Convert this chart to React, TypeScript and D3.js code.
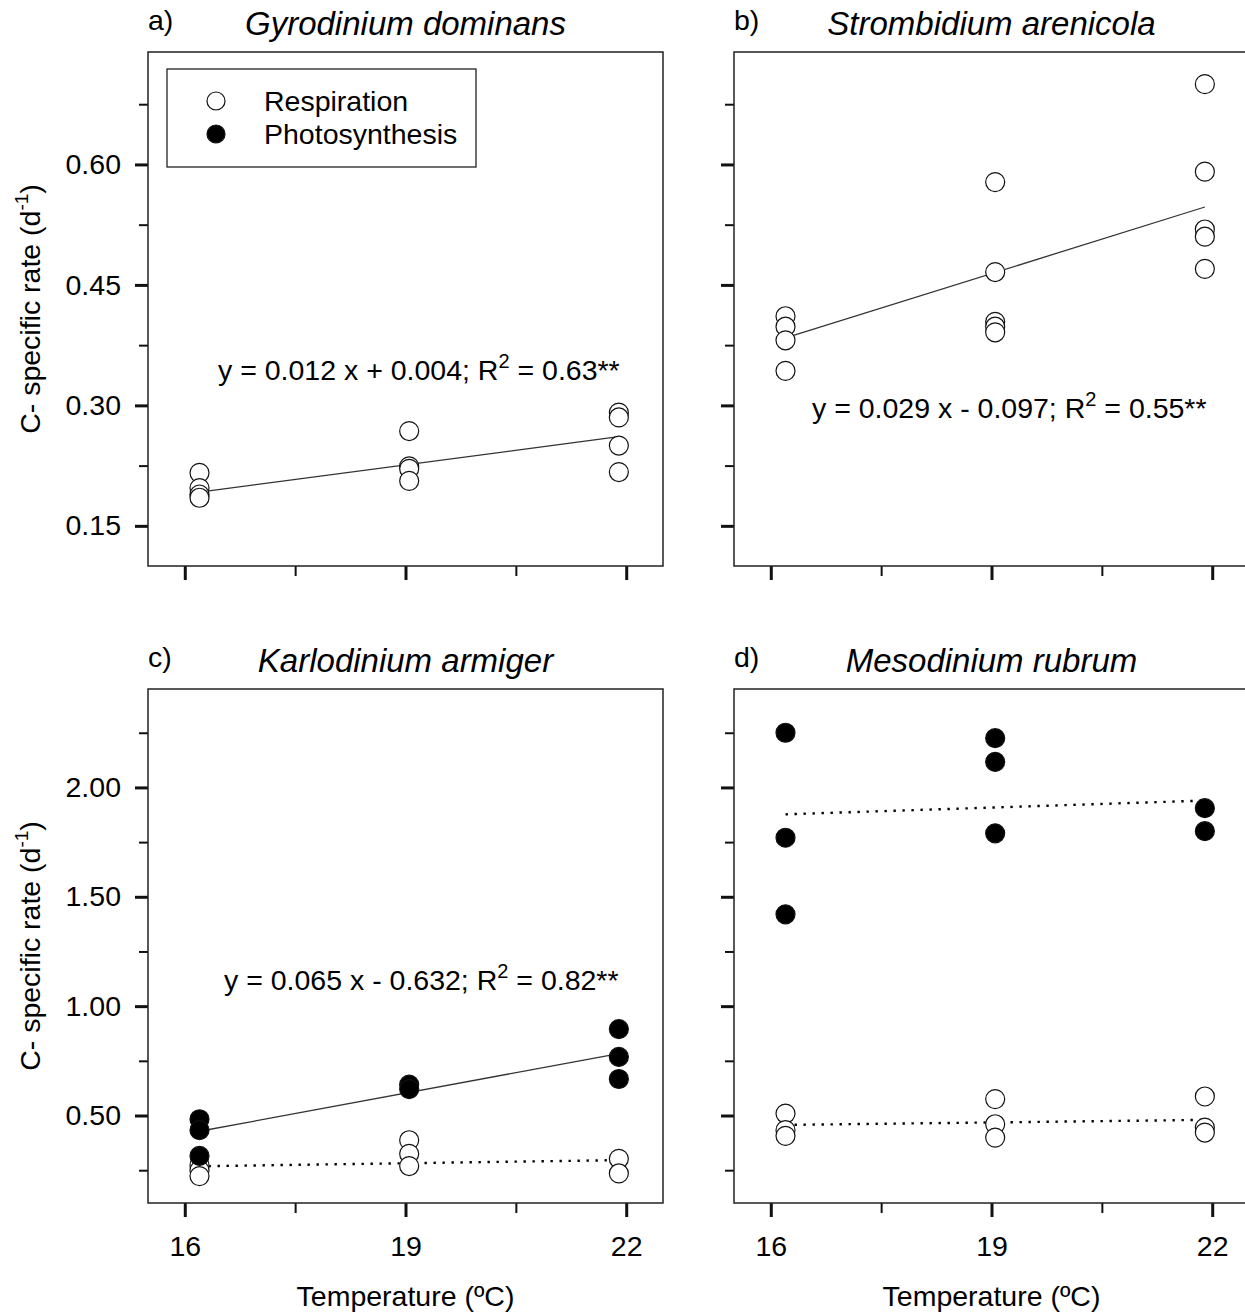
import React, { useRef, useEffect } from 'react';
import * as d3 from 'd3';

// temperatures at which the points were plotted, and the ends of the fitted lines
const tempGroups = [16.2, 19.05, 21.9];
const fitEnds = [16.2, 21.9];

// a) Gyrodinium dominans
const gyroResp = [[0.216, 0.197, 0.189, 0.185], [0.268, 0.224, 0.221, 0.206], [0.291, 0.285, 0.25, 0.217]];
const gyroRespFit = [0.192, 0.261];

// b) Strombidium arenicola
const stromResp = [[0.411, 0.398, 0.381, 0.343], [0.578, 0.466, 0.404, 0.398, 0.391], [0.7, 0.591, 0.519, 0.51, 0.47]];
const stromRespFit = [0.384, 0.547];

// c) Karlodinium armiger
const karloResp = [[0.273, 0.249, 0.223], [0.387, 0.325, 0.269], [0.302, 0.235]];
const karloRespFit = [0.268, 0.296];
const karloPhoto = [[0.483, 0.433, 0.315], [0.641, 0.621], [0.895, 0.768, 0.667]];
const karloPhotoFit = [0.428, 0.783];

// d) Mesodinium rubrum
const mesoResp = [[0.509, 0.433, 0.407], [0.575, 0.46, 0.399], [0.587, 0.445, 0.422]];
const mesoRespFit = [0.457, 0.48];
const mesoPhoto = [[2.25, 1.77, 1.42], [2.225, 2.117, 1.79], [1.905, 1.8]];
const mesoPhotoFit = [1.877, 1.94];

const xMajor = [16, 19, 22];
const xMinor = [17.5, 20.5];
const yMajorTop = [0.15, 0.3, 0.45, 0.6];
const yMinorTop = [0.225, 0.375, 0.525, 0.675];
const yMajorBottom = [0.5, 1.0, 1.5, 2.0];
const yMinorBottom = [0.25, 0.75, 1.25, 1.75, 2.25];

const FONT = 'Liberation Sans, Arial, sans-serif';
const FS = 28.5;

function App() {
    const svgRef = useRef(null);

    useEffect(() => {
        const width = 1245;
        const height = 1315;
        const panelW = 515;
        const panelH = 514;

        const svg = d3.select(svgRef.current)
            .attr('width', width)
            .attr('height', height)
            .attr('font-family', FONT);
        svg.selectAll('*').remove();

        const panels = [
            {
                left: 148, top: 52, yDomain: [0.1, 0.74], yMajor: yMajorTop, yMinor: yMinorTop,
                letter: 'a)', title: 'Gyrodinium dominans', yLabels: true, xLabels: false,
                resp: gyroResp, respFit: gyroRespFit, respDash: false,
                eq: { x: 218, y: 380, a: 'y = 0.012 x + 0.004; R', b: ' = 0.63**' }, legend: true,
            },
            {
                left: 734, top: 52, yDomain: [0.1, 0.74], yMajor: yMajorTop, yMinor: yMinorTop,
                letter: 'b)', title: 'Strombidium arenicola', yLabels: false, xLabels: false,
                resp: stromResp, respFit: stromRespFit, respDash: false,
                eq: { x: 812, y: 418, a: 'y = 0.029 x - 0.097; R', b: ' = 0.55**' },
            },
            {
                left: 148, top: 689, yDomain: [0.1, 2.45], yMajor: yMajorBottom, yMinor: yMinorBottom,
                letter: 'c)', title: 'Karlodinium armiger', yLabels: true, xLabels: true,
                resp: karloResp, respFit: karloRespFit, respDash: true,
                photo: karloPhoto, photoFit: karloPhotoFit, photoDash: false,
                eq: { x: 224, y: 990, a: 'y = 0.065 x - 0.632; R', b: ' = 0.82**' },
            },
            {
                left: 734, top: 689, yDomain: [0.1, 2.45], yMajor: yMajorBottom, yMinor: yMinorBottom,
                letter: 'd)', title: 'Mesodinium rubrum', yLabels: false, xLabels: true,
                resp: mesoResp, respFit: mesoRespFit, respDash: true,
                photo: mesoPhoto, photoFit: mesoPhotoFit, photoDash: true,
            },
        ];

        const fmt = d3.format('.2f');

        function styleAxis(g, sw) {
            g.select('.domain').remove();
            g.selectAll('.tick line').attr('stroke', '#111').attr('stroke-width', sw);
            g.selectAll('.tick text').attr('font-size', FS).attr('font-family', FONT).attr('fill', '#000');
        }

        panels.forEach(p => {
            const g = svg.append('g');
            const xScale = d3.scaleLinear().domain([15.5, 22.5]).range([p.left, p.left + panelW]);
            const yScale = d3.scaleLinear().domain(p.yDomain).range([p.top + panelH, p.top]);

            // ticks
            g.append('g')
                .attr('transform', `translate(${p.left}, 0)`)
                .call(d3.axisLeft(yScale).tickValues(p.yMinor).tickSize(9).tickFormat(() => ''))
                .call(a => styleAxis(a, 2));
            g.append('g')
                .attr('transform', `translate(${p.left}, 0)`)
                .call(d3.axisLeft(yScale).tickValues(p.yMajor).tickSize(13).tickPadding(14)
                    .tickFormat(p.yLabels ? fmt : () => ''))
                .call(a => styleAxis(a, 3));
            g.append('g')
                .attr('transform', `translate(0, ${p.top + panelH})`)
                .call(d3.axisBottom(xScale).tickValues(xMinor).tickSize(10).tickFormat(() => ''))
                .call(a => styleAxis(a, 2));
            g.append('g')
                .attr('transform', `translate(0, ${p.top + panelH})`)
                .call(d3.axisBottom(xScale).tickValues(xMajor).tickSize(14).tickPadding(19)
                    .tickFormat(p.xLabels ? d3.format('d') : () => ''))
                .call(a => styleAxis(a, 3));

            // frame
            g.append('rect')
                .attr('x', p.left).attr('y', p.top)
                .attr('width', panelW).attr('height', panelH)
                .attr('fill', 'none').attr('stroke', '#222').attr('stroke-width', 1.5);

            // titles
            g.append('text')
                .attr('x', p.left).attr('y', p.top - 22)
                .attr('font-size', FS).text(p.letter);
            g.append('text')
                .attr('x', xScale(19)).attr('y', p.top - 17)
                .attr('text-anchor', 'middle').attr('font-size', 33).attr('font-style', 'italic')
                .text(p.title);

            const line = d3.line().x((d, i) => xScale(fitEnds[i])).y(d => yScale(d));

            function drawFit(values, dashed) {
                g.append('path')
                    .attr('d', line(values))
                    .attr('fill', 'none')
                    .attr('stroke', dashed ? '#000' : '#333')
                    .attr('stroke-width', dashed ? 2.4 : 1.3)
                    .attr('stroke-dasharray', dashed ? '2.4 6.6' : null);
            }

            function drawPoints(groups, filled) {
                const pts = groups.flatMap((vals, i) => vals.map(v => [tempGroups[i], v]));
                g.append('g').selectAll('circle')
                    .data(pts)
                    .join('circle')
                    .attr('cx', d => xScale(d[0]))
                    .attr('cy', d => yScale(d[1]))
                    .attr('r', 9.5)
                    .attr('fill', filled ? '#000' : '#fff')
                    .attr('stroke', '#111')
                    .attr('stroke-width', 1.2);
            }

            drawFit(p.respFit, p.respDash);
            if (p.photoFit) drawFit(p.photoFit, p.photoDash);
            drawPoints(p.resp, false);
            if (p.photo) drawPoints(p.photo, true);

            if (p.eq) {
                const t = g.append('text').attr('x', p.eq.x).attr('y', p.eq.y).attr('font-size', FS);
                t.append('tspan').text(p.eq.a);
                t.append('tspan').attr('dy', -12).attr('font-size', 20).text('2');
                t.append('tspan').attr('dy', 12).text(p.eq.b);
            }

            if (p.legend) {
                g.append('rect')
                    .attr('x', 167).attr('y', 69).attr('width', 309).attr('height', 98)
                    .attr('fill', '#fff').attr('stroke', '#222').attr('stroke-width', 1.3);
                const items = [['Respiration', false], ['Photosynthesis', true]];
                items.forEach(([label, filled], i) => {
                    g.append('circle')
                        .attr('cx', 216).attr('cy', 101 + i * 33).attr('r', 9)
                        .attr('fill', filled ? '#000' : '#fff').attr('stroke', '#111').attr('stroke-width', 1.2);
                    g.append('text')
                        .attr('x', 264).attr('y', 111 + i * 33)
                        .attr('font-size', FS).text(label);
                });
            }

            // axis titles
            if (p.yLabels) {
                const t = g.append('text')
                    .attr('transform', `translate(40, ${p.top + panelH / 2}) rotate(-90)`)
                    .attr('text-anchor', 'middle').attr('font-size', FS);
                t.append('tspan').text('C- specific rate (d');
                t.append('tspan').attr('dy', -12).attr('font-size', 19).text('-1');
                t.append('tspan').attr('dy', 12).text(')');
            }
            if (p.xLabels) {
                g.append('text')
                    .attr('x', xScale(19)).attr('y', 1306)
                    .attr('text-anchor', 'middle').attr('font-size', FS)
                    .text('Temperature (ºC)');
            }
        });
    }, []);

    return (
        <div style={{ position: 'absolute', left: 0, top: 0, background: '#fff' }}>
            <svg ref={svgRef} style={{ display: 'block' }}></svg>
        </div>
    );
}

export default App;
